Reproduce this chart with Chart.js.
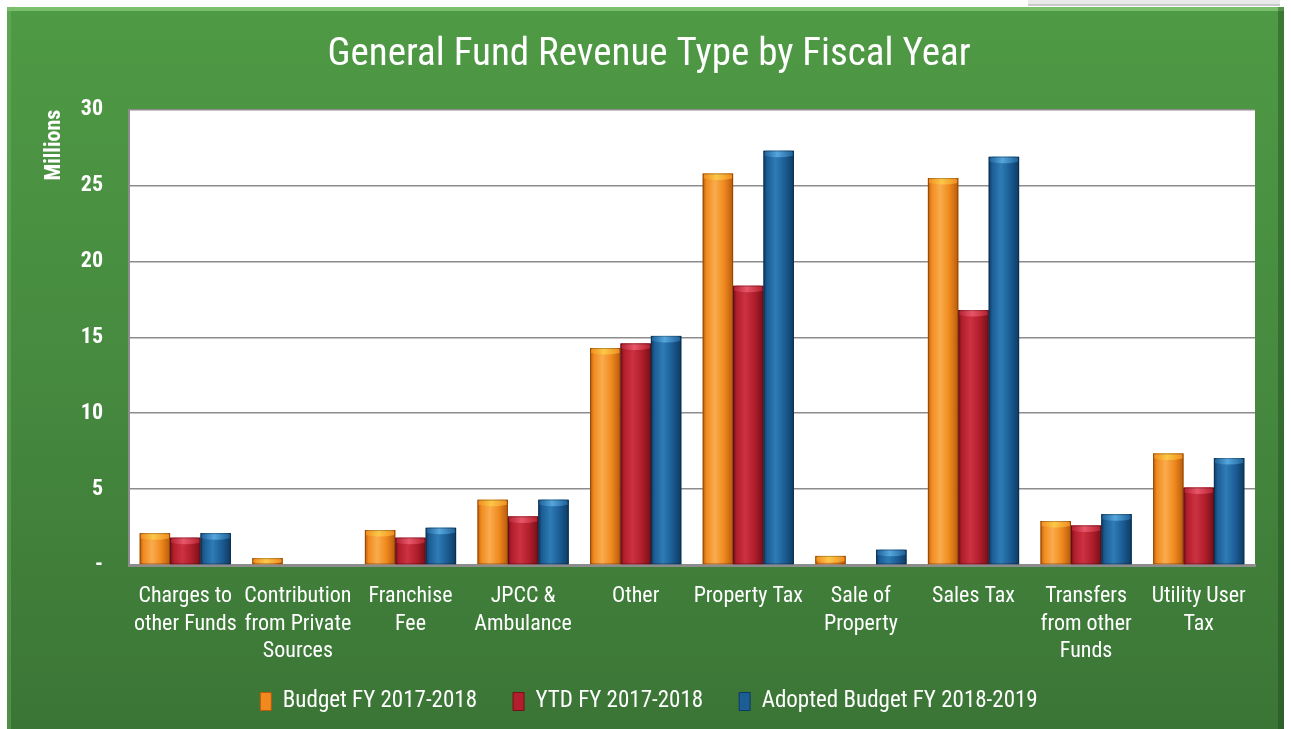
<!DOCTYPE html>
<html>
<head>
<meta charset="utf-8">
<title>General Fund Revenue Type by Fiscal Year</title>
<script src="https://cdn.jsdelivr.net/npm/chart.js@4.4.1/dist/chart.umd.min.js"></script>
<style>
  html, body { margin: 0; padding: 0; background: #ffffff; }
  canvas { display: block; }
</style>
</head>
<body>
<canvas id="chart" width="1291" height="729"></canvas>
<script>
// Revenue categories (multi-line labels as drawn under the axis)
const categories = [
  ['Charges to', 'other Funds'],
  ['Contribution', 'from Private', 'Sources'],
  ['Franchise', 'Fee'],
  ['JPCC &', 'Ambulance'],
  ['Other'],
  ['Property Tax'],
  ['Sale of', 'Property'],
  ['Sales Tax'],
  ['Transfers', 'from other', 'Funds'],
  ['Utility User', 'Tax']
];

// Values in millions of dollars
const budget2017 = [2.1, 0.45, 2.3, 4.3, 14.3, 25.8, 0.6, 25.5, 2.9, 7.35];
const ytd2017 = [1.8, 0, 1.8, 3.2, 14.6, 18.4, 0, 16.8, 2.6, 5.1];
const adopted2018 = [2.1, 0, 2.45, 4.3, 15.1, 27.3, 1.0, 26.9, 3.35, 7.05];

const seriesNames = ['Budget FY 2017-2018', 'YTD FY 2017-2018', 'Adopted Budget FY 2018-2019'];
const yTicks = [0, 5, 10, 15, 20, 25, 30];

// Shading for the cylinder-like bars
const palettes = [
  { dark: '#b85a0c', base: '#f08a1e', light: '#f9ac4e', cap: '#fcc848' },
  { dark: '#741019', base: '#b21e2c', light: '#cc3241', cap: '#e8566a' },
  { dark: '#0d3a62', base: '#1c5d95', light: '#2e7cb6', cap: '#56a6de' }
];

const FONT = "'Liberation Sans Narrow', 'Roboto Condensed', 'DejaVu Sans Condensed', 'Arial Narrow', sans-serif";

// Green framed panel behind the chart, plus white plot background
const panelPlugin = {
  id: 'panel',
  afterLayout(chart) {
    // pull the legend row up so it sits just below the category labels
    const lg = chart.legend;
    if (lg) {
      lg.top = 654;
      lg.bottom = 729;
      lg.height = 75;
    }
  },
  beforeDraw(chart) {
    const ctx = chart.ctx;
    const W = chart.width, H = chart.height;
    ctx.save();
    ctx.fillStyle = '#ffffff';
    ctx.fillRect(0, 0, W, H);
    // faint box peeking above the panel at the top right
    ctx.fillStyle = '#e9e9e9';
    ctx.fillRect(1028, 0, 252, 5);
    ctx.fillStyle = '#c9c9c9';
    ctx.fillRect(1028, 4, 252, 2);

    const x0 = 7, y0 = 7, x1 = 1284, y1 = H;
    const g = ctx.createLinearGradient(0, y0, 0, y1);
    g.addColorStop(0, '#4f9a45');
    g.addColorStop(0.5, '#468a3f');
    g.addColorStop(1, '#3b7536');
    ctx.fillStyle = g;
    ctx.fillRect(x0, y0, x1 - x0, y1 - y0);
    // bevel highlights / shadows
    ctx.fillStyle = 'rgba(160,220,140,0.55)';
    ctx.fillRect(x0, y0, x1 - x0, 4);
    ctx.fillStyle = 'rgba(120,190,110,0.35)';
    ctx.fillRect(x0, y0, 4, y1 - y0);
    ctx.fillStyle = 'rgba(20,60,20,0.35)';
    ctx.fillRect(x1 - 6, y0, 6, y1 - y0);

    const a = chart.chartArea;
    ctx.fillStyle = '#ffffff';
    ctx.fillRect(a.left, a.top, a.right - a.left, a.bottom - a.top);
    ctx.restore();
  }
};

// Repaint each bar with a horizontal gradient and a lighter top cap
const barShadePlugin = {
  id: 'barShade',
  afterDatasetsDraw(chart) {
    const ctx = chart.ctx;
    ctx.save();
    chart.data.datasets.forEach((ds, di) => {
      const meta = chart.getDatasetMeta(di);
      if (meta.hidden || meta.yAxisID !== 'y') return;
      const p = palettes[di];
      meta.data.forEach(el => {
        const { x, y, base, width } = el.getProps(['x', 'y', 'base', 'width'], true);
        const h = base - y;
        if (h < 0.5) return;
        const left = x - width / 2;
        const g = ctx.createLinearGradient(left, 0, left + width, 0);
        g.addColorStop(0, p.dark);
        g.addColorStop(0.12, p.base);
        g.addColorStop(0.4, p.light);
        g.addColorStop(0.7, p.base);
        g.addColorStop(1, p.dark);
        ctx.fillStyle = g;
        ctx.fillRect(left, y, width, h);
        // top cap
        const capH = Math.min(7, h);
        const cg = ctx.createLinearGradient(left, 0, left + width, 0);
        cg.addColorStop(0, p.base);
        cg.addColorStop(0.45, p.cap);
        cg.addColorStop(1, p.base);
        ctx.fillStyle = cg;
        ctx.beginPath();
        ctx.moveTo(left + 1, y + 2);
        ctx.quadraticCurveTo(left + 1, y, left + 4, y);
        ctx.lineTo(left + width - 4, y);
        ctx.quadraticCurveTo(left + width - 1, y, left + width - 1, y + 2);
        ctx.lineTo(left + width - 1, y + capH - 2);
        ctx.quadraticCurveTo(x, y + capH + 1, left + 1, y + capH - 2);
        ctx.closePath();
        ctx.fill();
        ctx.strokeStyle = 'rgba(0,0,0,0.25)';
        ctx.lineWidth = 1;
        ctx.strokeRect(left + 0.5, y + 0.5, width - 1, h - 1);
      });
    });
    ctx.restore();
  }
};

const datasets = [budget2017, ytd2017, adopted2018].map((values, i) => ({
  label: seriesNames[i],
  data: values,
  yAxisID: 'y',
  backgroundColor: palettes[i].base,
  borderWidth: 0,
  categoryPercentage: 0.81,
  barPercentage: 1.0
}));

new Chart(document.getElementById('chart'), {
  type: 'bar',
  data: { labels: categories, datasets },
  plugins: [panelPlugin, barShadePlugin],
  options: {
    responsive: false,
    animation: false,
    devicePixelRatio: 1,
    layout: { padding: { left: 7, right: 0, top: 7, bottom: 8 } },
    plugins: {
      title: {
        display: true,
        text: 'General Fund Revenue Type by Fiscal Year',
        color: '#ffffff',
        font: { family: FONT, size: 39, weight: 'normal' },
        padding: { top: 25, bottom: 31 }
      },
      legend: {
        position: 'bottom',
        maxHeight: 44,
        labels: {
          color: '#ffffff',
          font: { family: FONT, size: 23 },
          boxWidth: 11,
          boxHeight: 18,
          padding: 36,
          generateLabels(chart) {
            return chart.data.datasets.map((ds, i) => ({
              text: ds.label,
              fillStyle: palettes[i].base,
              strokeStyle: palettes[i].dark,
              lineWidth: 1,
              fontColor: '#ffffff',
              datasetIndex: i,
              hidden: false
            }));
          }
        }
      },
      tooltip: { enabled: false }
    },
    scales: {
      x: {
        grid: { display: false, drawTicks: false },
        border: { display: true, color: '#8c8c8c', width: 3 },
        ticks: {
          color: '#ffffff',
          font: { family: FONT, size: 22, lineHeight: 1.25 },
          padding: 18,
          maxRotation: 0,
          autoSkip: false
        },
        afterFit(scale) { scale.height = 112; }
      },
      y: {
        min: 0,
        max: 30,
        afterBuildTicks(scale) { scale.ticks = yTicks.map(v => ({ value: v })); },
        grid: { color: '#8c8c8c', lineWidth: 1.6, drawTicks: false },
        border: { display: true, color: '#8c8c8c', width: 2 },
        ticks: {
          color: '#ffffff',
          font: { family: FONT, size: 22, weight: 'bold' },
          padding: 26,
          callback: v => (v === 0 ? '-' : String(v))
        },
        title: {
          display: true,
          text: 'Millions',
          align: 'end',
          color: '#ffffff',
          font: { family: FONT, size: 22, weight: 'bold' },
          padding: { top: 34, bottom: 0 }
        },
        afterFit(scale) { scale.width = 122; }
      },
      // empty right-hand margin strip (keeps the plot narrower than the panel)
      yRight: {
        position: 'right',
        display: true,
        grid: { display: false, drawTicks: false },
        border: { display: false },
        ticks: { display: false },
        afterFit(scale) { scale.width = 36; }
      }
    }
  }
});
</script>
</body>
</html>
